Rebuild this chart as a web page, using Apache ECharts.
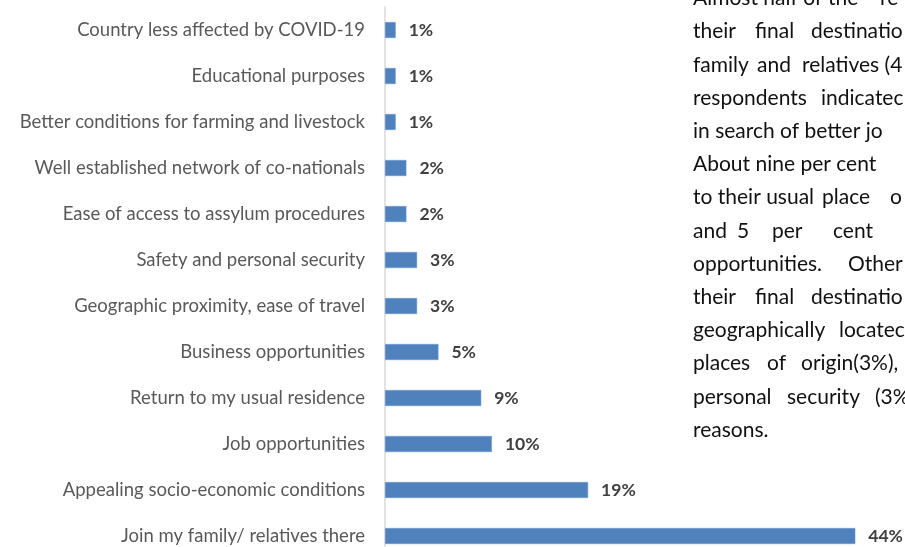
<!DOCTYPE html>
<html>
<head>
<meta charset="utf-8">
<script src="https://cdn.jsdelivr.net/npm/echarts@6/dist/echarts.min.js"></script>
<style>
  html, body { margin: 0; padding: 0; background: #fff; }
  #chart { width: 905px; height: 547px; }
</style>
</head>
<body>
<div id="chart"></div>
<script>
// Reasons for choosing the final destination (share of respondents, %)
const reasons = [
  'Country less affected by COVID-19',
  'Educational purposes',
  'Better conditions for farming and livestock',
  'Well established network of co-nationals',
  'Ease of access to assylum procedures',
  'Safety and personal security',
  'Geographic proximity, ease of travel',
  'Business opportunities',
  'Return to my usual residence',
  'Job opportunities',
  'Appealing socio-economic conditions',
  'Join my family/ relatives there'
];
const shares = [1, 1, 1, 2, 2, 3, 3, 5, 9, 10, 19, 44];

// Accompanying paragraph, one entry per visible line: [word, left x]
const paragraphLines = [
  [['Almost', 693], ['half', 762], ['of', 803], ['the', 828], ['re', 880]],
  [['their', 693], ['final', 755], ['destinatio', 811]],
  [['family', 693], ['and', 757], ['relatives', 802], ['(4', 870]],
  [['respondents', 693], ['indicatec', 821]],
  [['in', 693], ['search', 710], ['of', 775], ['better', 797], ['jo', 864]],
  [['About', 693], ['nine', 753], ['per', 798], ['cent', 835]],
  [['to', 693], ['their', 716], ['usual', 765], ['place', 822], ['o', 890]],
  [['and', 693], ['5', 737], ['per', 772], ['cent', 833]],
  [['opportunities.', 693], ['Other', 848]],
  [['their', 693], ['final', 755], ['destinatio', 811]],
  [['geographically', 693], ['locatec', 839]],
  [['places', 693], ['of', 767], ['origin(3%),', 801]],
  [['personal', 693], ['security', 787], ['(3%', 875]],
  [['reasons.', 693]]
];
const firstBaseline = 4;
const lineStep = 33.2;
const paraFont = '21px Lato';

// Justified word starts; a word is nudged right only if the previous one would touch it
const measureCtx = document.createElement('canvas').getContext('2d');
measureCtx.font = paraFont;
const gap = measureCtx.measureText(' ').width;

const graphics = [];
paragraphLines.forEach((line, i) => {
  let prevEnd = -Infinity;
  line.forEach(([word, x]) => {
    const left = Math.max(x, prevEnd + gap);
    prevEnd = left + measureCtx.measureText(word).width;
    graphics.push({
      type: 'text',
      x: left,
      y: firstBaseline + i * lineStep - 16,
      silent: true,
      style: {
        text: word,
        font: paraFont,
        fill: '#111111'
      }
    });
  });
});

const chart = echarts.init(document.getElementById('chart'), null, { renderer: 'canvas' });
chart.setOption({
  animation: false,
  backgroundColor: '#ffffff',
  grid: {
    left: 385, top: 7, width: 481, height: 552,
    containLabel: false,
    outerBoundsMode: 'none'
  },
  xAxis: {
    type: 'value',
    min: 0,
    max: 45,
    show: false
  },
  yAxis: {
    type: 'category',
    data: reasons,
    inverse: true,
    axisLine: { show: true, lineStyle: { color: '#d9d9d9', width: 1.5 } },
    axisTick: { show: false },
    axisLabel: { color: '#595959', fontFamily: 'Lato', fontSize: 18.5, margin: 20 },
    splitLine: { show: false }
  },
  series: [{
    type: 'bar',
    data: shares,
    barWidth: 16,
    itemStyle: { color: '#4f81bd', borderColor: '#6f9ad0', borderWidth: 0.5 },
    label: {
      show: true,
      position: 'right',
      distance: 13,
      formatter: p => p.value + '%',
      color: '#404040',
      fontFamily: 'Lato',
      fontWeight: 'bold',
      fontSize: 17.5
    }
  }],
  graphic: graphics
});
</script>
</body>
</html>
